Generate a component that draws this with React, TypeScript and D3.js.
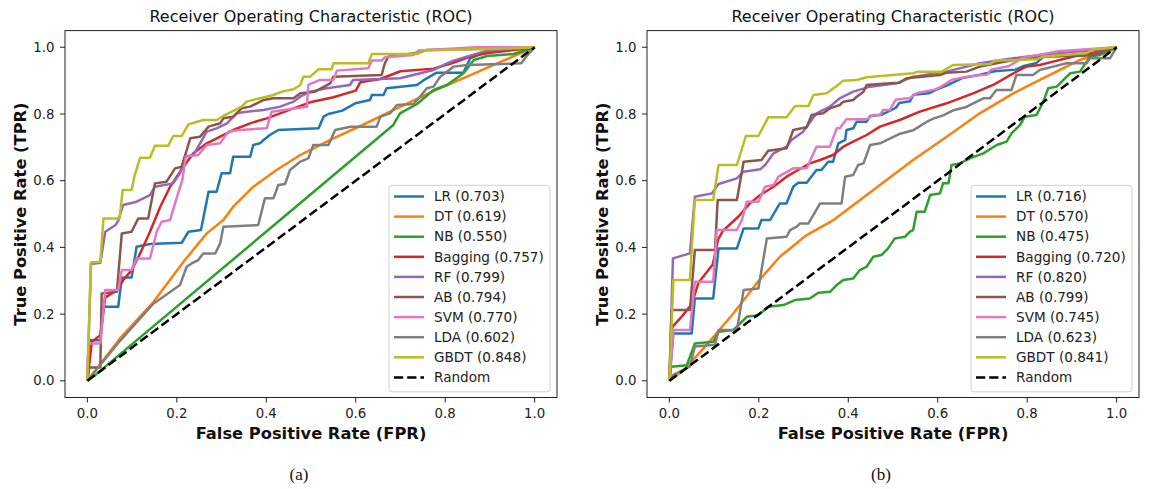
import React from "react";
import * as d3 from "d3";

type Pt = [number, number];

// ---------- categories / labels ----------
const modelNames = ["LR", "DT", "NB", "Bagging", "RF", "AB", "SVM", "LDA", "GBDT"];
const modelColors = ["#1f77b4", "#ff7f0e", "#2ca02c", "#d62728", "#9467bd", "#8c564b", "#e377c2", "#7f7f7f", "#bcbd22"];
const aucA = ["0.703", "0.619", "0.550", "0.757", "0.799", "0.794", "0.770", "0.602", "0.848"];
const aucB = ["0.716", "0.570", "0.475", "0.720", "0.820", "0.799", "0.745", "0.623", "0.841"];
const tickValues = [0, 0.2, 0.4, 0.6, 0.8, 1.0];
const titleText = "Receiver Operating Characteristic (ROC)";
const xLabelText = "False Positive Rate (FPR)";
const yLabelText = "True Positive Rate (TPR)";
const randomLine: Pt[] = [[0, 0], [1, 1]];

// ---------- panel (a) curves: [FPR, TPR] ----------
const lrA: Pt[] = [[0,0],[0.004,0.122],[0.029,0.122],[0.036,0.222],[0.069,0.222],[0.077,0.31],[0.099,0.31],[0.11,0.402],[0.14,0.41],[0.211,0.414],[0.226,0.447],[0.254,0.452],[0.271,0.567],[0.289,0.567],[0.3,0.622],[0.319,0.622],[0.326,0.672],[0.364,0.672],[0.371,0.707],[0.386,0.712],[0.394,0.722],[0.408,0.737],[0.427,0.752],[0.517,0.757],[0.528,0.792],[0.539,0.8],[0.57,0.81],[0.599,0.832],[0.632,0.842],[0.636,0.857],[0.662,0.857],[0.669,0.877],[0.737,0.887],[0.755,0.904],[0.781,0.924],[0.841,0.924],[0.856,0.967],[0.88,0.98],[0.9,0.99],[1,1]];
const dtA: Pt[] = [[0,0],[0.073,0.127],[0.148,0.237],[0.218,0.362],[0.267,0.442],[0.304,0.482],[0.326,0.522],[0.371,0.582],[0.423,0.632],[0.476,0.677],[0.55,0.727],[0.62,0.77],[0.685,0.812],[0.77,0.866],[0.85,0.913],[0.93,0.96],[1,1]];
const nbA: Pt[] = [[0,0],[0.02,0.02],[0.431,0.482],[0.684,0.767],[0.699,0.802],[0.737,0.83],[0.774,0.872],[0.804,0.887],[0.841,0.922],[0.864,0.962],[0.894,0.974],[0.953,0.98],[1,1]];
const baggingA: Pt[] = [[0,0],[0.01,0.117],[0.029,0.137],[0.04,0.25],[0.067,0.272],[0.08,0.302],[0.099,0.332],[0.118,0.382],[0.14,0.447],[0.163,0.522],[0.185,0.582],[0.215,0.642],[0.237,0.682],[0.267,0.712],[0.297,0.732],[0.326,0.752],[0.364,0.772],[0.401,0.787],[0.431,0.802],[0.461,0.817],[0.498,0.835],[0.55,0.85],[0.6,0.87],[0.61,0.895],[0.655,0.905],[0.7,0.928],[0.774,0.936],[0.815,0.952],[0.856,0.972],[0.893,0.982],[0.953,0.992],[1,1]];
const rfA: Pt[] = [[0,0],[0.008,0.35],[0.029,0.354],[0.04,0.447],[0.063,0.467],[0.069,0.48],[0.08,0.527],[0.11,0.537],[0.14,0.557],[0.151,0.582],[0.192,0.592],[0.207,0.622],[0.218,0.672],[0.237,0.677],[0.267,0.747],[0.289,0.757],[0.312,0.772],[0.334,0.802],[0.356,0.807],[0.394,0.812],[0.431,0.822],[0.461,0.837],[0.476,0.852],[0.498,0.867],[0.535,0.877],[0.587,0.887],[0.594,0.902],[0.699,0.907],[0.774,0.932],[0.804,0.952],[0.819,0.96],[0.848,0.972],[0.893,0.99],[1,1]];
const abA: Pt[] = [[0,0],[0.004,0.04],[0.029,0.04],[0.032,0.262],[0.066,0.267],[0.077,0.442],[0.099,0.447],[0.11,0.477],[0.114,0.487],[0.136,0.487],[0.151,0.592],[0.177,0.597],[0.196,0.637],[0.211,0.642],[0.23,0.727],[0.252,0.732],[0.271,0.762],[0.297,0.772],[0.304,0.787],[0.326,0.792],[0.345,0.817],[0.364,0.822],[0.379,0.832],[0.394,0.842],[0.416,0.847],[0.461,0.847],[0.476,0.862],[0.509,0.867],[0.543,0.892],[0.55,0.912],[0.658,0.917],[0.665,0.952],[0.673,0.972],[0.74,0.984],[0.759,0.992],[1,1]];
const svmA: Pt[] = [[0,0],[0.002,0.112],[0.029,0.112],[0.04,0.272],[0.069,0.272],[0.077,0.332],[0.099,0.332],[0.11,0.367],[0.14,0.367],[0.155,0.447],[0.166,0.477],[0.185,0.482],[0.2,0.55],[0.212,0.6],[0.22,0.672],[0.248,0.677],[0.267,0.707],[0.297,0.712],[0.315,0.747],[0.341,0.752],[0.401,0.757],[0.412,0.807],[0.491,0.822],[0.494,0.887],[0.52,0.902],[0.55,0.902],[0.558,0.93],[0.628,0.937],[0.636,0.96],[0.658,0.96],[0.665,0.97],[0.729,0.977],[0.74,0.99],[0.87,1],[1,1]];
const ldaA: Pt[] = [[0,0],[0.073,0.12],[0.148,0.232],[0.17,0.252],[0.207,0.287],[0.222,0.342],[0.233,0.352],[0.248,0.362],[0.259,0.382],[0.286,0.382],[0.297,0.412],[0.304,0.462],[0.382,0.467],[0.397,0.547],[0.416,0.547],[0.427,0.587],[0.442,0.59],[0.453,0.632],[0.476,0.657],[0.494,0.667],[0.505,0.707],[0.539,0.707],[0.554,0.752],[0.588,0.762],[0.647,0.762],[0.655,0.792],[0.677,0.802],[0.692,0.827],[0.729,0.83],[0.744,0.852],[0.759,0.877],[0.774,0.882],[0.789,0.912],[0.819,0.942],[0.849,0.947],[0.97,0.952],[0.983,0.975],[1,1]];
const gbdtA: Pt[] = [[0,0],[0.008,0.355],[0.029,0.357],[0.036,0.487],[0.072,0.487],[0.079,0.572],[0.099,0.572],[0.105,0.612],[0.118,0.669],[0.14,0.669],[0.151,0.705],[0.181,0.705],[0.192,0.734],[0.211,0.734],[0.226,0.769],[0.259,0.782],[0.289,0.782],[0.304,0.794],[0.323,0.807],[0.345,0.822],[0.356,0.837],[0.386,0.847],[0.416,0.857],[0.435,0.867],[0.461,0.874],[0.476,0.887],[0.483,0.912],[0.498,0.912],[0.517,0.934],[0.546,0.934],[0.55,0.952],[0.628,0.952],[0.636,0.98],[0.74,0.98],[0.748,0.99],[0.878,0.994],[1,1]];

// ---------- panel (b) curves: [FPR, TPR] ----------
const lrB: Pt[] = [[0,0],[0.009,0.142],[0.05,0.142],[0.057,0.247],[0.098,0.247],[0.11,0.397],[0.151,0.397],[0.166,0.457],[0.199,0.457],[0.206,0.482],[0.225,0.482],[0.247,0.532],[0.262,0.532],[0.277,0.582],[0.288,0.594],[0.307,0.594],[0.329,0.632],[0.34,0.632],[0.355,0.657],[0.366,0.657],[0.378,0.712],[0.393,0.722],[0.396,0.752],[0.411,0.757],[0.419,0.777],[0.441,0.777],[0.449,0.794],[0.475,0.798],[0.506,0.818],[0.514,0.833],[0.538,0.838],[0.546,0.858],[0.58,0.862],[0.6,0.875],[0.62,0.885],[0.656,0.908],[0.695,0.918],[0.727,0.928],[0.774,0.933],[0.79,0.943],[0.821,0.953],[0.837,0.973],[0.947,0.975],[1,1]];
const dtB: Pt[] = [[0,0],[0.032,0.032],[0.083,0.107],[0.143,0.202],[0.195,0.292],[0.247,0.372],[0.307,0.437],[0.367,0.482],[0.456,0.572],[0.545,0.662],[0.62,0.732],[0.694,0.802],[0.769,0.862],[0.843,0.912],[0.918,0.962],[1,1]];
const nbB: Pt[] = [[0,0],[0.004,0.042],[0.039,0.047],[0.057,0.112],[0.098,0.117],[0.11,0.147],[0.143,0.152],[0.173,0.192],[0.199,0.197],[0.221,0.222],[0.255,0.227],[0.281,0.242],[0.314,0.247],[0.333,0.264],[0.359,0.267],[0.374,0.287],[0.389,0.302],[0.411,0.307],[0.426,0.332],[0.441,0.342],[0.456,0.372],[0.474,0.377],[0.489,0.397],[0.504,0.427],[0.527,0.432],[0.538,0.447],[0.545,0.452],[0.553,0.507],[0.571,0.507],[0.583,0.557],[0.605,0.562],[0.612,0.592],[0.624,0.592],[0.631,0.647],[0.649,0.652],[0.672,0.667],[0.702,0.682],[0.732,0.707],[0.754,0.717],[0.765,0.742],[0.784,0.767],[0.795,0.792],[0.821,0.797],[0.836,0.837],[0.847,0.877],[0.866,0.882],[0.881,0.902],[0.896,0.922],[0.918,0.927],[0.933,0.957],[0.94,0.972],[0.963,0.977],[0.985,0.99],[1,1]];
const baggingB: Pt[] = [[0,0],[0.006,0.16],[0.026,0.19],[0.05,0.23],[0.065,0.294],[0.097,0.349],[0.109,0.424],[0.12,0.45],[0.154,0.492],[0.18,0.532],[0.203,0.557],[0.233,0.582],[0.262,0.612],[0.288,0.632],[0.314,0.652],[0.337,0.662],[0.366,0.677],[0.389,0.702],[0.411,0.717],[0.441,0.737],[0.471,0.762],[0.515,0.782],[0.56,0.807],[0.62,0.832],[0.679,0.862],[0.724,0.887],[0.769,0.922],[0.798,0.942],[0.828,0.947],[0.858,0.957],[0.888,0.967],[0.918,0.977],[0.948,0.984],[1,1]];
const rfB: Pt[] = [[0,0],[0.008,0.367],[0.046,0.382],[0.057,0.552],[0.095,0.562],[0.11,0.59],[0.151,0.607],[0.166,0.627],[0.203,0.634],[0.214,0.647],[0.233,0.682],[0.262,0.702],[0.273,0.722],[0.299,0.747],[0.329,0.802],[0.359,0.822],[0.381,0.847],[0.411,0.867],[0.449,0.882],[0.508,0.892],[0.545,0.912],[0.62,0.927],[0.694,0.952],[0.769,0.967],[0.828,0.977],[0.888,0.984],[0.948,0.992],[1,1]];
const abB: Pt[] = [[0,0],[0.005,0.212],[0.046,0.212],[0.057,0.392],[0.102,0.392],[0.108,0.542],[0.151,0.542],[0.166,0.657],[0.206,0.662],[0.221,0.69],[0.262,0.697],[0.277,0.752],[0.307,0.76],[0.318,0.797],[0.344,0.802],[0.359,0.817],[0.381,0.827],[0.389,0.837],[0.411,0.842],[0.419,0.852],[0.434,0.867],[0.441,0.887],[0.471,0.89],[0.493,0.892],[0.515,0.894],[0.53,0.907],[0.605,0.917],[0.62,0.924],[0.664,0.927],[0.694,0.942],[0.769,0.962],[0.843,0.972],[0.948,0.977],[1,1]];
const svmB: Pt[] = [[0,0],[0.009,0.152],[0.046,0.152],[0.057,0.297],[0.098,0.297],[0.106,0.452],[0.151,0.452],[0.162,0.482],[0.173,0.537],[0.199,0.537],[0.214,0.582],[0.233,0.587],[0.244,0.612],[0.277,0.637],[0.307,0.637],[0.329,0.702],[0.359,0.702],[0.374,0.757],[0.381,0.757],[0.396,0.784],[0.441,0.784],[0.456,0.797],[0.471,0.797],[0.478,0.812],[0.493,0.812],[0.506,0.843],[0.538,0.848],[0.554,0.863],[0.593,0.873],[0.609,0.883],[0.632,0.903],[0.672,0.913],[0.711,0.918],[0.719,0.933],[0.758,0.943],[0.79,0.968],[0.829,0.978],[0.869,0.988],[1,1]];
const ldaB: Pt[] = [[0,0],[0.009,0.018],[0.046,0.043],[0.057,0.103],[0.102,0.108],[0.11,0.152],[0.151,0.152],[0.166,0.272],[0.199,0.277],[0.218,0.427],[0.262,0.432],[0.27,0.452],[0.285,0.462],[0.292,0.472],[0.311,0.472],[0.337,0.532],[0.385,0.532],[0.393,0.612],[0.411,0.617],[0.422,0.647],[0.434,0.652],[0.449,0.707],[0.471,0.712],[0.516,0.741],[0.545,0.751],[0.575,0.776],[0.59,0.786],[0.612,0.796],[0.635,0.811],[0.664,0.821],[0.702,0.847],[0.717,0.847],[0.731,0.872],[0.765,0.872],[0.776,0.917],[0.813,0.917],[0.828,0.932],[0.858,0.942],[0.888,0.952],[0.933,0.952],[0.94,0.967],[0.985,0.967],[1,1]];
const gbdtB: Pt[] = [[0,0],[0.009,0.302],[0.046,0.302],[0.054,0.482],[0.057,0.542],[0.098,0.542],[0.11,0.647],[0.151,0.647],[0.171,0.734],[0.199,0.734],[0.221,0.79],[0.262,0.79],[0.281,0.824],[0.311,0.824],[0.322,0.857],[0.352,0.862],[0.374,0.884],[0.389,0.9],[0.419,0.902],[0.441,0.91],[0.545,0.922],[0.556,0.927],[0.609,0.927],[0.635,0.947],[0.717,0.95],[0.728,0.96],[0.821,0.964],[0.836,0.972],[0.933,0.982],[0.948,0.994],[1,1]];

const curvesA: Pt[][] = [lrA, dtA, nbA, baggingA, rfA, abA, svmA, ldaA, gbdtA];
const curvesB: Pt[][] = [lrB, dtB, nbB, baggingB, rfB, abB, svmB, ldaB, gbdtB];

const FONT = "'DejaVu Sans', sans-serif";

function Panel({ x0, curves, aucs, caption, id }: { x0: number; curves: Pt[][]; aucs: string[]; caption: string; id: string }) {
  const W = 492;
  const top = 30.6;
  const H = 366.9;
  const xs = d3.scaleLinear().domain([-0.05, 1.05]).range([x0, x0 + W]);
  const ys = d3.scaleLinear().domain([-0.05, 1.05]).range([top + H, top]);
  const line = d3.line<Pt>().x((d) => xs(d[0])).y((d) => ys(d[1]));
  const cx = x0 + W / 2;
  const legX = x0 + W - 168;
  const legY = 185.3;
  const rowH = 20.1;
  const entries = modelNames.map((n, i) => ({ label: `${n} (${aucs[i]})`, color: modelColors[i], dash: false }));
  entries.push({ label: "Random", color: "#000", dash: true });
  return (
    <g>
      <defs>
        <clipPath id={`clip-${id}`}>
          <rect x={x0} y={top} width={W} height={H} />
        </clipPath>
      </defs>
      <text x={cx} y={22} textAnchor="middle" fontFamily={FONT} fontSize={16} fill="#111">{titleText}</text>
      <g clipPath={`url(#clip-${id})`}>
        {curves.map((c, i) => (
          <path key={i} d={line(c) || ""} fill="none" stroke={modelColors[i]} strokeWidth={2.5} strokeLinejoin="round" />
        ))}
        <path d={line(randomLine) || ""} fill="none" stroke="#000" strokeWidth={2.5} strokeDasharray="9.2 4" />
      </g>
      <rect x={x0} y={top} width={W} height={H} fill="none" stroke="#222" strokeWidth={1} />
      {tickValues.map((t) => (
        <g key={`x${t}`}>
          <line x1={xs(t)} x2={xs(t)} y1={top + H} y2={top + H + 5} stroke="#222" strokeWidth={1} />
          <text x={xs(t)} y={418} textAnchor="middle" fontFamily={FONT} fontSize={13.3} fill="#222">{t.toFixed(1)}</text>
        </g>
      ))}
      {tickValues.map((t) => (
        <g key={`y${t}`}>
          <line x1={x0 - 5} x2={x0} y1={ys(t)} y2={ys(t)} stroke="#222" strokeWidth={1} />
          <text x={x0 - 10.5} y={ys(t)} dy="0.35em" textAnchor="end" fontFamily={FONT} fontSize={13.3} fill="#222">{t.toFixed(1)}</text>
        </g>
      ))}
      <text x={cx} y={438.5} textAnchor="middle" fontFamily={FONT} fontSize={16.3} fontWeight="bold" fill="#111">{xLabelText}</text>
      <text transform={`translate(${x0 - 39.5},${top + H / 2}) rotate(-90)`} textAnchor="middle" fontFamily={FONT} fontSize={16.3} fontWeight="bold" fill="#111">{yLabelText}</text>
      <rect x={legX} y={legY} width={161} height={206.5} rx={3} fill="#fff" fillOpacity={0.8} stroke="#d0d0d0" strokeWidth={1} />
      {entries.map((e, i) => {
        const yy = legY + 11.2 + i * rowH;
        return (
          <g key={e.label}>
            <line x1={legX + 5} x2={legX + 35} y1={yy} y2={yy} stroke={e.color} strokeWidth={2.5} strokeDasharray={e.dash ? "9.2 4" : undefined} />
            <text x={legX + 45} y={yy} dy="0.35em" fontFamily={FONT} fontSize={13.6} fill="#222">{e.label}</text>
          </g>
        );
      })}
      <text x={cx - 12} y={480} textAnchor="middle" fontFamily="'Liberation Serif', 'Times New Roman', serif" fontSize={17} fill="#111">{caption}</text>
    </g>
  );
}

export default function App() {
  return (
    <svg width={1152} height={489} style={{ position: "absolute", left: 0, top: 0, background: "#fff" }}>
      <rect width={1152} height={489} fill="#fff" />
      <Panel x0={65} curves={curvesA} aucs={aucA} caption="(a)" id="a" />
      <Panel x0={647} curves={curvesB} aucs={aucB} caption="(b)" id="b" />
    </svg>
  );
}
